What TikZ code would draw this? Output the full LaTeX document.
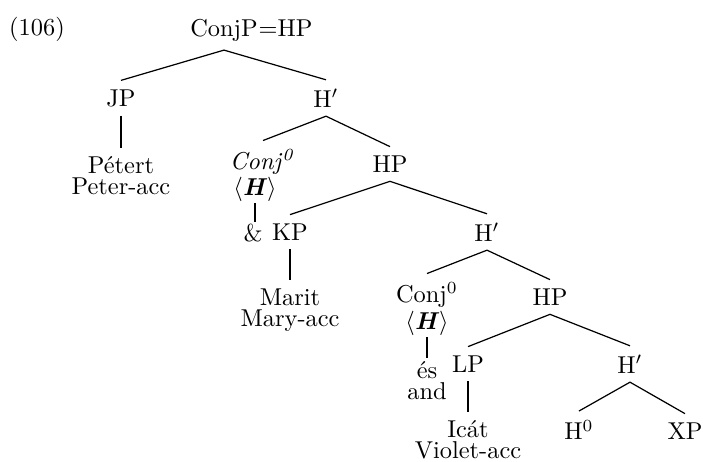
\documentclass[tikz,border=0pt]{standalone}
\usepackage{tikz}
\usepackage{amsmath}
\tikzset{>=stealth}

\begin{document}
\begin{tikzpicture}[x=0.41pt,y=-0.41pt,
    lbl/.style={inner sep=3.5pt, align=center},
    head/.style={inner xsep=1pt, inner ysep=0.5pt, align=center},
    br/.style={line width=0.5pt}]
        \def\hbold{$\langle$\textbf{\textit{H}}$\rangle$}
        \def\tight{\\[-3.4pt]}
        \useasboundingbox (0,0) rectangle (703,462);

        %example number
        \node[lbl] (num) at (37,29) {(106)};

        %root
        \node[lbl, inner xsep=0pt] (conjp) at (224,30) {ConjP};
        \node[lbl, inner xsep=0pt, anchor=base west] (eqhp) at (conjp.base east) {=HP};

        %first conjunct
        \node[lbl] (jp) at (121,98) {JP};
        \node[lbl] (peter) at (121,176) {Pétert\tight Peter-acc};
        \node[lbl] (hbara) at (326,98) {H$'$};

        %first head
        \node[lbl] (conja) at (263,162) {\textit{Conj}$^{\mathit{0}}$};
        \node[head] (hda) at (255,189) {\hbold};
        \node[head] (amp) at (253,233) {\&};
        \node[lbl] (hpa) at (390,164) {HP};

        %second conjunct
        \node[lbl] (kp) at (290,232) {KP};
        \node[lbl] (marit) at (290,310) {Marit\tight Mary-acc};
        \node[lbl] (hbarb) at (487,232) {H$'$};

        %second head
        \node[lbl] (conjb) at (427,295) {Conj$^0$};
        \node[head] (hdb) at (427,323) {\hbold};
        \node[head] (es) at (427,381) {és\tight and};
        \node[lbl] (hpb) at (550,297) {HP};

        %third conjunct
        \node[lbl] (lp) at (468,364) {LP};
        \node[lbl] (icat) at (468,440) {Icát\tight Violet-acc};
        \node[lbl] (hbarc) at (630,364) {H$'$};
        \node[lbl] (hzero) at (579,430) {H$^0$};
        \node[lbl] (xp) at (685,431) {XP};

        %branches
        \draw[br] (jp.north) -- (conjp.south) -- (hbara.north);
        \draw[br] (jp.south) -- (peter.north);
        \draw[br] (conja.north) -- (hbara.south) -- (hpa.north);
        \draw[br] (hda.south) -- (hda.south |- amp.north);
        \draw[br] (kp.north) -- (hpa.south) -- (hbarb.north);
        \draw[br] (kp.south) -- (marit.north);
        \draw[br] (conjb.north) -- (hbarb.south) -- (hpb.north);
        \draw[br] (hdb.south) -- ([yshift=1pt]hdb.south |- es.north);
        \draw[br] (lp.north) -- (hpb.south) -- (hbarc.north);
        \draw[br] (lp.south) -- (icat.north);
        \draw[br] (hzero.north) -- (hbarc.south) -- (xp.north);
\end{tikzpicture}
\end{document}
